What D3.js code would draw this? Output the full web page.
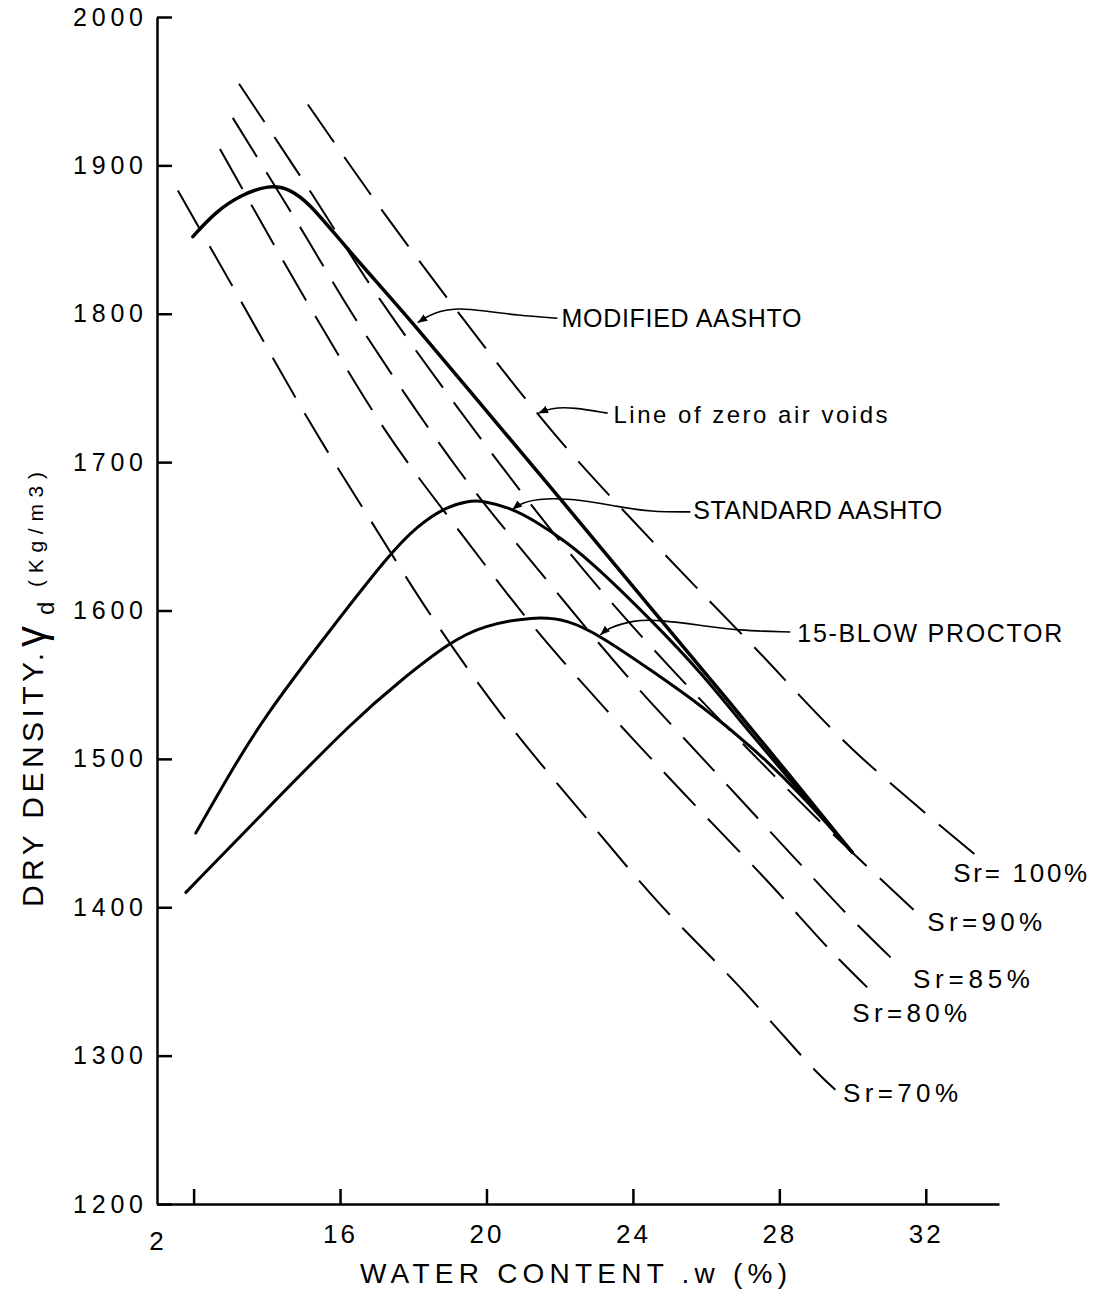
<!DOCTYPE html>
<html><head><meta charset="utf-8">
<script src="https://cdn.jsdelivr.net/npm/d3@7"></script>
<style>
html,body{margin:0;padding:0;background:#fff;}
svg{display:block;font-family:"Liberation Sans",Arial,sans-serif;}
</style></head><body>
<svg id="chart" width="1099" height="1290"></svg>
<script>
// ---- axis ticks ----
const xTicks = [12, 16, 20, 24, 28, 32];
const xTickLabels = ["2", "16", "20", "24", "28", "32"];
const yTicks = [1200, 1300, 1400, 1500, 1600, 1700, 1800, 1900, 2000];

// ---- compaction curves [water content %, dry density kg/m3] ----
const modifiedAASHTO = [[11.98,1852],[12.61,1869],[13.29,1880],[14.06,1887],[14.66,1884],[15.20,1873],[15.75,1857],[16.65,1831],[17.85,1798],[20.39,1723],[22.30,1667],[24.48,1602],[26.85,1532],[28.11,1494],[29.99,1437]];
const standardAASHTO = [[12.06,1450],[12.96,1489],[13.92,1528],[15.67,1585],[17.38,1639],[18.12,1657],[18.83,1669],[19.49,1674],[19.92,1674],[20.66,1669],[21.29,1661],[22.21,1646],[23.11,1627],[24.48,1594],[25.84,1559],[27.21,1517],[28.57,1478],[29.99,1437]];
const blow15Proctor = [[11.79,1410],[14.11,1469],[16.38,1526],[17.66,1553],[19.02,1579],[19.92,1590],[21.29,1596],[22.21,1594],[23.11,1583],[24.48,1560],[25.92,1535],[27.21,1509],[28.57,1477],[29.99,1437]];

// ---- degree of saturation lines ----
const sr100 = [[15.12,1941],[17.11,1871],[19.38,1796],[21.89,1718],[24.67,1643],[27.21,1578],[30.02,1506],[33.62,1430]];
const sr90  = [[13.24,1955],[15.12,1885],[17.11,1809],[20.39,1698],[22.70,1626],[25.08,1560],[28.98,1461],[31.90,1393]];
const sr85  = [[13.07,1932],[14.77,1864],[16.59,1790],[19.29,1693],[21.53,1624],[23.80,1557],[26.03,1497],[28.35,1435],[29.94,1393],[31.30,1360]];
const sr80  = [[12.72,1911],[15.12,1807],[17.33,1718],[19.43,1648],[21.29,1589],[23.31,1532],[25.38,1477],[27.62,1419],[29.47,1369],[30.40,1346]];
const sr70  = [[11.57,1883],[12.96,1823],[15.15,1728],[16.65,1668],[18.61,1592],[20.47,1528],[22.73,1460],[24.67,1404],[26.85,1348],[28.98,1290],[29.53,1277]];
const srLabels = ["Sr= 100%", "Sr=90%", "Sr=85%", "Sr=80%", "Sr=70%"];
const srLabelAnchors = [[32.75,1423],[32.04,1390],[31.65,1352],[29.99,1329],[29.74,1275]];
const srLabelWidths = [134, 115, 117, 115, 115];

// ---- annotations (leader lines in data coordinates) ----
const curveLabels = ["MODIFIED AASHTO", "Line of zero air voids", "STANDARD AASHTO", "15-BLOW PROCTOR"];
const curveLabelAnchors = [[22.05,1797],[23.47,1732],[25.65,1668],[28.49,1585]];
const curveLabelWidths = [240, 274, 249, 265];
const leaderModified = [[18.12,1794],[18.56,1801],[19.21,1804],[19.92,1802],[20.85,1799],[21.94,1797]];
const leaderZeroAir  = [[21.42,1733],[21.75,1736.5],[22.38,1737],[23.31,1733]];
const leaderStandard = [[20.71,1668],[20.93,1672.5],[21.56,1676],[22.65,1674.5],[23.58,1670],[24.48,1666.5],[25.57,1666.5]];
const leaderBlow15   = [[23.11,1583.5],[23.31,1588],[24.01,1593.6],[24.75,1593.6],[25.84,1590],[26.85,1586.5],[28.30,1585.5]];

const svg = d3.select("#chart");
svg.append("rect").attr("width",1099).attr("height",1290).attr("fill","#fff");

const x = d3.scaleLinear().domain([11, 34]).range([157, 999]);
const y = d3.scaleLinear().domain([1200, 2000]).range([1204, 17]);

const defs = svg.append("defs");
defs.append("marker").attr("id","arrow").attr("viewBox","0 0 10 10")
  .attr("refX",10).attr("refY",5).attr("markerWidth",6).attr("markerHeight",6)
  .attr("orient","auto-start-reverse")
  .append("path").attr("d","M0,1 L10,5 L0,9 z").attr("fill","#000");

// axes
const xAxis = d3.axisBottom(x).tickValues(xTicks).tickSizeInner(-15).tickSizeOuter(0)
  .tickPadding(21).tickFormat((d,i)=>xTickLabels[i]);
const gx = svg.append("g").attr("transform","translate(0,1204)").call(xAxis);
gx.select(".domain").attr("stroke","#000").attr("stroke-width",2.5);
gx.selectAll(".tick line").attr("stroke","#000").attr("stroke-width",2.5);
gx.selectAll(".tick text").attr("fill","#000").attr("font-size",26)
  .attr("font-family","Liberation Sans, Arial, sans-serif").attr("letter-spacing","3px");
gx.selectAll(".tick text").filter((d,i)=>i===0).attr("dx",-36).attr("y",28);

const yAxis = d3.axisLeft(y).tickValues(yTicks).tickSizeInner(-15).tickSizeOuter(0)
  .tickPadding(14).tickFormat(d3.format("d"));
const gy = svg.append("g").attr("transform","translate(157,0)").call(yAxis);
gy.select(".domain").attr("stroke","#000").attr("stroke-width",2.5);
gy.selectAll(".tick line").attr("stroke","#000").attr("stroke-width",2.5);
gy.selectAll(".tick text").attr("fill","#000").attr("font-size",25)
  .attr("font-family","Liberation Sans, Arial, sans-serif")
  .attr("textLength",70).attr("lengthAdjust","spacing");

// axis titles
svg.append("text").attr("x",360).attr("y",1283).attr("font-size",28)
  .attr("textLength",427).attr("lengthAdjust","spacing").text("WATER CONTENT .w (%)");

const yt = svg.append("g").attr("transform","translate(43,907) rotate(-90)");
yt.append("text").attr("x",0).attr("y",0).attr("font-size",30)
  .attr("textLength",254).attr("lengthAdjust","spacing").text("DRY DENSITY.");
yt.append("text").attr("x",260).attr("y",2).attr("font-size",42).text("γ");
yt.append("text").attr("x",292).attr("y",11).attr("font-size",24).text("d");
yt.append("text").attr("x",320).attr("y",0).attr("font-size",21)
  .attr("textLength",115).attr("lengthAdjust","spacing").text("(Kg/m3)");

const line = d3.line().x(d=>x(d[0])).y(d=>y(d[1])).curve(d3.curveCatmullRom.alpha(0.5));
const smooth = d3.line().x(d=>x(d[0])).y(d=>y(d[1])).curve(d3.curveBasis);

// saturation lines (dashed)
const srSeries = [sr100, sr90, sr85, sr80, sr70];
svg.append("g").selectAll("path").data(srSeries).join("path")
  .attr("d", line).attr("fill","none").attr("stroke","#000")
  .attr("stroke-width",2).attr("stroke-dasharray","46,18");

svg.append("g").selectAll("text").data(srLabels).join("text")
  .attr("x",(d,i)=>x(srLabelAnchors[i][0])).attr("y",(d,i)=>y(srLabelAnchors[i][1]))
  .attr("dy","0.36em").attr("font-size",26)
  .attr("textLength",(d,i)=>srLabelWidths[i]).attr("lengthAdjust","spacing").text(d=>d);

// compaction curves (solid)
const curves = [modifiedAASHTO, standardAASHTO, blow15Proctor];
svg.append("g").selectAll("path").data(curves).join("path")
  .attr("d", smooth).attr("fill","none").attr("stroke","#000")
  .attr("stroke-width",(d,i)=>i===0?3.5:3).attr("stroke-linecap","round");

// leaders
const leaders = [leaderModified, leaderZeroAir, leaderStandard, leaderBlow15];
svg.append("g").selectAll("path").data(leaders).join("path")
  .attr("d", smooth)
  .attr("fill","none").attr("stroke","#000").attr("stroke-width",1.6)
  .attr("marker-start","url(#arrow)");

svg.append("g").selectAll("text").data(curveLabels).join("text")
  .attr("x",(d,i)=>x(curveLabelAnchors[i][0])).attr("y",(d,i)=>y(curveLabelAnchors[i][1]))
  .attr("dy","0.36em").attr("font-size",(d,i)=>i===1?24:25)
  .attr("textLength",(d,i)=>curveLabelWidths[i]).attr("lengthAdjust","spacing").text(d=>d);
</script>
</body></html>
